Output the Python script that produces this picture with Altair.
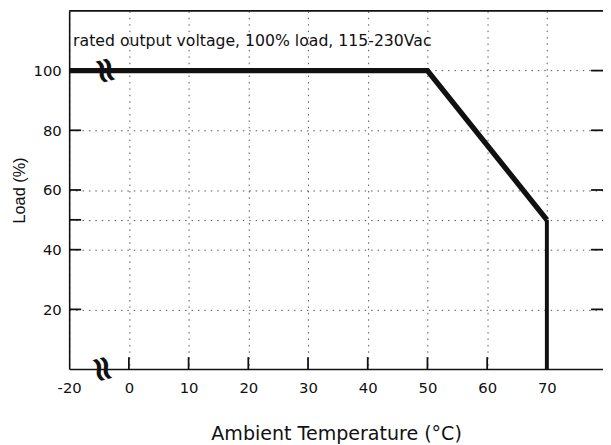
import altair as alt
import pandas as pd

# derating curve (real temperatures, °C) and load (%)
curve_temp = [-20, 50, 70]
curve_load = [100, 100, 50]
drop_temp = [70, 70]
drop_load = [50, 0]

x_ticks = [-10, 0, 10, 20, 30, 40, 50, 60, 70]   # -10 position carries the "-20" label (broken axis)
y_ticks = [20, 40, 50, 60, 80, 100]
bottom_ticks = [0, 10, 20, 30, 40, 50, 60]
left_ticks = [20, 40, 50, 60, 80, 100]
right_ticks = [20, 40, 60, 80, 100]
break_x = [-8, -9]
break_y = [100, 0]
note = "rated output voltage, 100% load, 115-230Vac"

XMIN, XMAX = -10, 79.4
YMIN, YMAX = 0, 120
FONT = "DejaVu Sans"

xs = alt.Scale(domain=[XMIN, XMAX], nice=False, zero=False)
ys = alt.Scale(domain=[YMIN, YMAX], nice=False)

def brk(field):
    return f"datum.{field} < 0 ? datum.{field} / 2 : datum.{field}"

curve = pd.DataFrame({"t": curve_temp, "load": curve_load})
drop = pd.DataFrame({"t": drop_temp, "load": drop_load})

base_axis_x = alt.Axis(values=x_ticks, labelExpr="datum.value == -10 ? '-20' : datum.label",
                       title="Ambient Temperature (°C)", grid=True, gridDash=[1.5, 5],
                       gridColor="#555", gridWidth=1, ticks=False, labelPadding=12,
                       labelFlush=False, labelFontSize=15, titleFontSize=19.3, titlePadding=29,
                       labelFont=FONT, titleFont=FONT, labelColor="#111", titleColor="#111",
                       domainColor="#111", domainWidth=1.6, titleFontWeight="normal")
base_axis_y = alt.Axis(values=y_ticks, labelExpr="datum.value == 50 ? '' : datum.label",
                       title="Load (%)", grid=True, gridDash=[1.5, 5], gridColor="#555",
                       gridWidth=1, ticks=False, labelPadding=8, labelFontSize=15,
                       titleFontSize=16.5, titlePadding=6, labelFont=FONT,
                       titleFont="Liberation Sans",
                       labelColor="#111", titleColor="#111", domainColor="#111",
                       domainWidth=1.6, titleFontWeight="normal")

main = alt.Chart(curve).transform_calculate(x=brk("t")).mark_line(
    color="#111", strokeWidth=5.5, strokeJoin="miter", strokeCap="butt"
).encode(x=alt.X("x:Q", scale=xs, axis=base_axis_x), y=alt.Y("load:Q", scale=ys, axis=base_axis_y))

vert = alt.Chart(drop).transform_calculate(x=brk("t")).mark_line(
    color="#111", strokeWidth=4, strokeCap="butt"
).encode(x=alt.X("x:Q", scale=xs), y=alt.Y("load:Q", scale=ys))

bt = alt.Chart(pd.DataFrame({"v": bottom_ticks})).mark_rule(color="#111", strokeWidth=1.8).encode(
    x=alt.X("v:Q", scale=xs), y=alt.datum(0, scale=ys), y2=alt.datum(4))
lt = alt.Chart(pd.DataFrame({"v": left_ticks})).mark_rule(color="#111", strokeWidth=1.8).encode(
    y=alt.Y("v:Q", scale=ys), x=alt.datum(XMIN, scale=xs), x2=alt.datum(XMIN + 2))
rt = alt.Chart(pd.DataFrame({"v": right_ticks})).mark_rule(color="#111", strokeWidth=1.8).encode(
    y=alt.Y("v:Q", scale=ys), x=alt.datum(XMAX, scale=xs), x2=alt.datum(XMAX - 2))
top = alt.Chart(pd.DataFrame({"v": [YMAX]})).mark_rule(color="#111", strokeWidth=1.6).encode(
    y=alt.Y("v:Q", scale=ys), x=alt.datum(XMIN, scale=xs), x2=alt.datum(XMAX))

breaks = alt.Chart(pd.DataFrame({"t": break_x, "load": break_y})).transform_calculate(
    x=brk("t")).mark_text(text="≈", font="DejaVu Sans", fontSize=36, color="#111",
                          fontWeight="bold", baseline="middle", align="center",
                          angle=75).encode(
    x=alt.X("x:Q", scale=xs), y=alt.Y("load:Q", scale=ys))

txt = alt.Chart(pd.DataFrame({"label": [note], "t": [-10], "load": [110]})).mark_text(
    align="left", baseline="middle", dx=4, font=FONT, fontSize=15.9, color="#111").encode(
    x=alt.X("t:Q", scale=xs), y=alt.Y("load:Q", scale=ys), text="label:N")

chart = alt.layer(main, vert, bt, lt, rt, top, breaks, txt).properties(
    width=541, height=363, autosize=alt.AutoSizeParams(type="none"),
    padding={"left": 62, "top": 0, "right": 0, "bottom": 74}, background="white"
).configure_view(stroke=None)

chart.save("out.html", embed_options={"renderer": "svg", "actions": False})
